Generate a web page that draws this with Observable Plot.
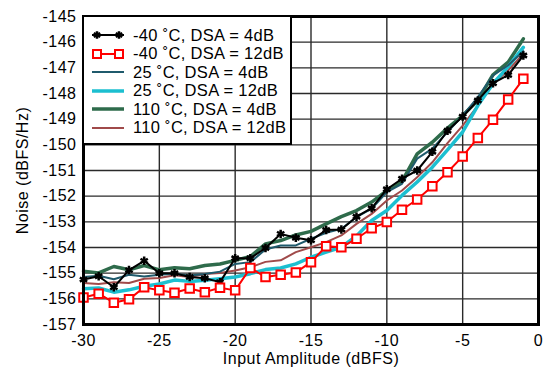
<!DOCTYPE html>
<html>
<head>
<meta charset="utf-8">
<script src="https://cdn.jsdelivr.net/npm/d3@7"></script>
<script src="https://cdn.jsdelivr.net/npm/@observablehq/plot@0.6"></script>
<style>
  html, body { margin: 0; padding: 0; background: #fff; }
  #wrap { position: relative; width: 546px; height: 371px; font-family: "Liberation Sans", Arial, sans-serif; }
  #legend { position: absolute; left: 82px; top: 15px; width: 206px; height: 126px; background: #fff; border: 2.5px solid #000; box-sizing: content-box; }
  .row { position: absolute; left: 0; height: 18px; display: flex; align-items: center; font-size: 16.5px; letter-spacing: 0.3px; white-space: nowrap; }
  .row svg { margin-left: 8px; margin-right: 9px; }
</style>
</head>
<body>
<div id="wrap"></div>
<script>
const inputAmp = [-30,-29,-28,-27,-26,-25,-24,-23,-22,-21,-20,-19,-18,-17,-16,-15,-14,-13,-12,-11,-10,-9,-8,-7,-6,-5,-4,-3,-2,-1];

const m40_4 = [-155.25,-155.12,-155.55,-154.88,-154.52,-155.0,-155.0,-155.15,-155.2,-155.35,-154.42,-154.42,-154.02,-153.47,-153.62,-153.72,-153.32,-153.3,-152.8,-152.47,-151.73,-151.32,-151.0,-150.27,-149.45,-148.9,-148.27,-147.6,-147.28,-146.52];
const m40_12 = [-155.95,-155.8,-156.15,-156.02,-155.55,-155.67,-155.76,-155.6,-155.74,-155.57,-155.67,-154.8,-155.15,-155.06,-154.97,-154.57,-153.95,-153.99,-153.66,-153.25,-153.01,-152.53,-152.13,-151.61,-151.07,-150.45,-149.73,-149.02,-148.23,-147.43];
const t25_4 = [-155.15,-155.1,-155.24,-155.06,-155.13,-155.06,-155.02,-155.09,-155.03,-154.94,-154.64,-154.57,-154.08,-153.92,-153.92,-153.66,-153.43,-153.27,-152.82,-152.49,-151.84,-151.52,-150.54,-150.15,-149.5,-148.86,-148.14,-147.3,-146.9,-146.35];
const t25_12 = [-155.61,-155.58,-155.74,-155.65,-155.51,-155.42,-155.27,-155.32,-155.28,-155.22,-155.15,-155.02,-154.86,-154.8,-154.64,-154.38,-154.18,-153.99,-153.55,-152.95,-152.56,-151.97,-151.45,-150.87,-150.2,-149.5,-148.47,-147.62,-146.95,-146.2];
const t110_4 = [-154.92,-154.99,-154.74,-154.87,-154.7,-154.87,-154.79,-154.83,-154.7,-154.64,-154.5,-154.35,-153.86,-153.73,-153.51,-153.37,-153.08,-152.8,-152.56,-152.23,-151.78,-151.42,-150.35,-149.9,-149.35,-148.86,-148.27,-147.27,-146.78,-145.87];
const t110_12 = [-155.38,-155.42,-155.35,-155.38,-155.22,-155.19,-155.08,-155.15,-155.03,-154.99,-154.9,-154.77,-154.56,-154.5,-154.18,-153.99,-153.79,-153.53,-153.08,-152.69,-152.17,-151.78,-151.26,-150.68,-149.93,-149.25,-148.47,-147.62,-147.1,-146.45];

const xTicks = [-30,-25,-20,-15,-10,-5,0];
const yTicks = [-157,-156,-155,-154,-153,-152,-151,-150,-149,-148,-147,-146,-145];

const seriesNames = ["-40 \u02DAC, DSA = 4dB","-40 \u02DAC, DSA = 12dB","25 \u02DAC, DSA = 4dB","25 \u02DAC, DSA = 12dB","110 \u02DAC, DSA = 4dB","110 \u02DAC, DSA = 12dB"];
const seriesValues = [m40_4, m40_12, t25_4, t25_12, t110_4, t110_12];
const colors = ["#000000","#ff0000","#1f5a6c","#1cbfd0","#2e6b4b","#a04a4a"];
const widths = [2, 2, 2, 3.5, 3.5, 2];

const rows = seriesValues.map(vals => inputAmp.map((x, i) => ({x, y: vals[i]})));

const lineMark = (k) => Plot.line(rows[k], {x: "x", y: "y", stroke: colors[k], strokeWidth: widths[k]});

const chart = Plot.plot({
  width: 546, height: 371,
  marginLeft: 83, marginRight: 8, marginTop: 16, marginBottom: 47,
  style: {fontFamily: "'Liberation Sans', Arial, sans-serif", fontSize: "16px", letterSpacing: "0.5px", background: "white", color: "black"},
  x: {domain: [-30, 0]},
  y: {domain: [-157, -145]},
  marks: [
    Plot.ruleX(xTicks, {stroke: "#2a2a2a", strokeWidth: 1.4}),
    Plot.ruleY(yTicks, {stroke: "#2a2a2a", strokeWidth: 1.4}),
    lineMark(4), lineMark(5), lineMark(3), lineMark(2), lineMark(0),
    Plot.dot(rows[0], {x: "x", y: "y", symbol: "asterisk", r: 4, stroke: "#000", strokeWidth: 2.5}),
    lineMark(1),
    Plot.dot(rows[1], {x: "x", y: "y", symbol: "square", r: 4.8, stroke: "#ff0000", fill: "white", strokeWidth: 2}),
    Plot.frame({stroke: "#000", strokeWidth: 3}),
    Plot.axisX(xTicks, {tickSize: 0, tickPadding: 10, tickFormat: d => String(d), label: "Input Amplitude (dBFS)", labelAnchor: "center", labelOffset: 39, labelArrow: false, fontSize: 16}),
    Plot.axisY(yTicks, {tickSize: 0, tickPadding: 7, tickFormat: d => String(d), label: "Noise (dBFS/Hz)", labelAnchor: "center", labelOffset: 67, labelArrow: false, fontSize: 16})
  ]
});

const wrap = document.getElementById("wrap");
wrap.appendChild(chart);

// legend overlay
const legend = document.createElement("div");
legend.id = "legend";
const rowTops = [9, 27.5, 46, 64.5, 83, 101.5];
seriesNames.forEach((name, k) => {
  const row = document.createElement("div");
  row.className = "row";
  row.style.top = rowTops[k] + "px";
  let marker = "";
  if (k === 0) {
    const sym = d3.symbol(d3.symbolAsterisk, 40)();
    marker = `<path d="${sym}" transform="translate(5,9)" stroke="#000" stroke-width="2.5" fill="none"/><path d="${sym}" transform="translate(27,9)" stroke="#000" stroke-width="2.5" fill="none"/>`;
  } else if (k === 1) {
    marker = `<rect x="1" y="5" width="8" height="8" fill="white" stroke="#ff0000" stroke-width="2"/><rect x="23" y="5" width="8" height="8" fill="white" stroke="#ff0000" stroke-width="2"/>`;
  }
  row.innerHTML = `<svg width="32" height="18"><line x1="0" x2="32" y1="9" y2="9" stroke="${colors[k]}" stroke-width="${widths[k]}"/>${marker}</svg><span>${name}</span>`;
  legend.appendChild(row);
});
wrap.appendChild(legend);
</script>
</body>
</html>
